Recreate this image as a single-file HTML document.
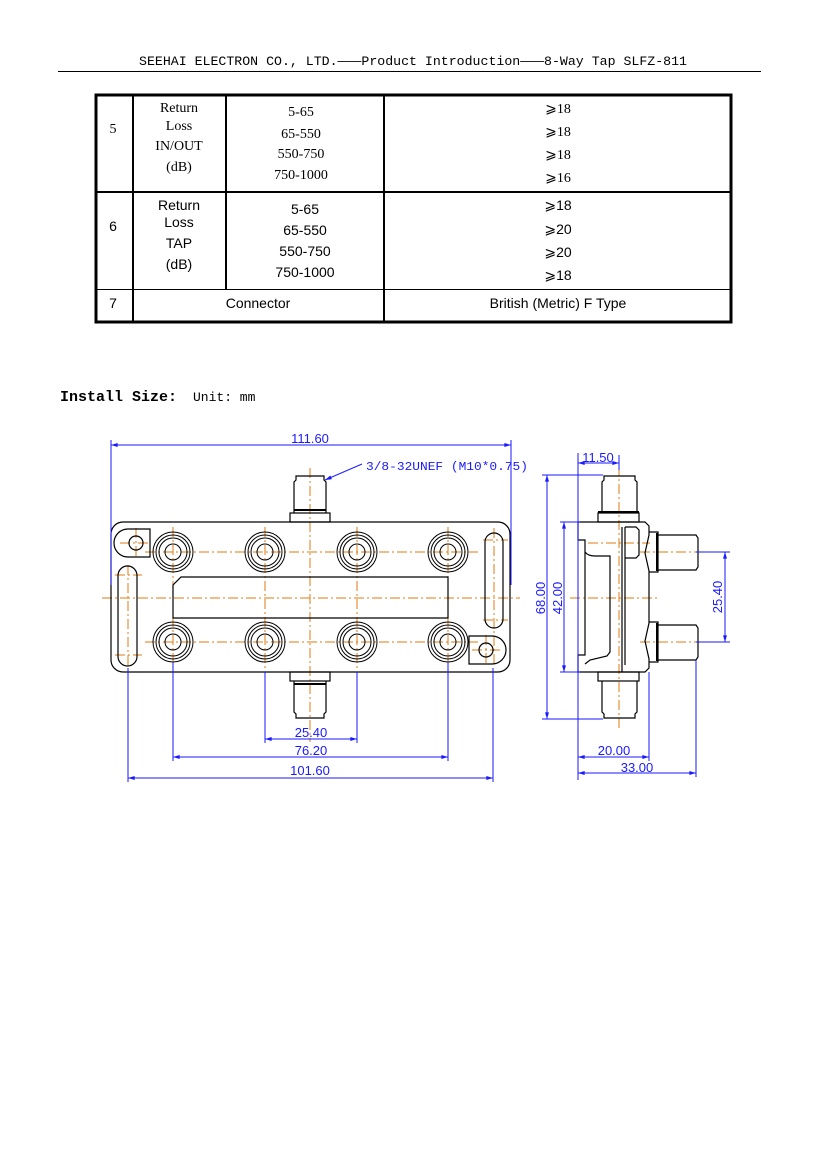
<!DOCTYPE html>
<html><head><meta charset="utf-8"><style>
html,body{margin:0;padding:0;background:#fff;}
body{width:827px;height:1170px;position:relative;overflow:hidden;}
svg{position:absolute;left:0;top:0;}
</style></head><body>
<svg width="827" height="1170" viewBox="0 0 827 1170" xmlns="http://www.w3.org/2000/svg">
<defs>
<marker id="a" viewBox="0 0 10 6" refX="10" refY="3" markerWidth="10" markerHeight="4" orient="auto-start-reverse" markerUnits="userSpaceOnUse"><path d="M0,0 L10,3 L0,6z" fill="#1a1aff"/></marker>
<g id="j" stroke="#000" stroke-width="1" fill="none"><circle r="20"/><circle r="17"/><circle r="14"/><circle r="8"/></g>
</defs>
<!-- header -->
<text x="413" y="65" text-anchor="middle" font-family="Liberation Mono, monospace" font-size="13" fill="#000" textLength="548" lengthAdjust="spacingAndGlyphs">SEEHAI ELECTRON CO., LTD.———Product Introduction———8-Way Tap SLFZ-811</text>
<line x1="58" y1="71.5" x2="761" y2="71.5" stroke="#000" stroke-width="1"/>
<!-- table -->
<g stroke="#000" fill="none">
<rect x="96" y="95" width="635" height="227" stroke-width="3"/>
<line x1="95" y1="192" x2="732" y2="192" stroke-width="2"/>
<line x1="95" y1="289.5" x2="732" y2="289.5" stroke-width="1"/>
<line x1="133" y1="95" x2="133" y2="322" stroke-width="2"/>
<line x1="226" y1="95" x2="226" y2="289" stroke-width="2"/>
<line x1="384" y1="95" x2="384" y2="322" stroke-width="2"/>
</g>
<g font-family="Liberation Serif, serif" font-size="14" fill="#000" text-anchor="middle">
<text x="113" y="133">5</text>
<text x="179" y="112">Return</text><text x="179" y="130">Loss</text>
<text x="179" y="150">IN/OUT</text><text x="179" y="171">(dB)</text>
<text x="301" y="116">5-65</text><text x="301" y="138">65-550</text>
<text x="301" y="158">550-750</text><text x="301" y="179">750-1000</text>
<text x="558" y="113">⩾18</text><text x="558" y="136">⩾18</text>
<text x="558" y="159">⩾18</text><text x="558" y="182">⩾16</text>
</g>
<g font-family="Liberation Sans, sans-serif" font-size="14" fill="#000" text-anchor="middle">
<text x="113" y="231">6</text>
<text x="179" y="210">Return</text><text x="179" y="227">Loss</text>
<text x="179" y="248">TAP</text><text x="179" y="269">(dB)</text>
<text x="305" y="214">5-65</text><text x="305" y="235">65-550</text>
<text x="305" y="256">550-750</text><text x="305" y="277">750-1000</text>
<text x="558" y="210">⩾18</text><text x="558" y="234">⩾20</text>
<text x="558" y="257">⩾20</text><text x="558" y="280">⩾18</text>
<text x="113" y="308">7</text>
<text x="258" y="308">Connector</text>
<text x="558" y="308">British (Metric) F Type</text>
</g>
<!-- install size -->
<text x="60" y="401" font-family="Liberation Mono, monospace" font-weight="bold" font-size="15" fill="#000">Install Size:</text>
<text x="193" y="401" font-family="Liberation Mono, monospace" font-size="13" fill="#000">Unit: mm</text>

<!-- front view -->
<g stroke="#e07a10" stroke-width="1" stroke-dasharray="10,3,2,3" fill="none">
<line x1="102" y1="598" x2="520" y2="598"/>
<line x1="310" y1="468" x2="310" y2="742"/>
<line x1="145" y1="552" x2="478" y2="552"/>
<line x1="145" y1="642" x2="478" y2="642"/>
<line x1="173" y1="527" x2="173" y2="668"/><line x1="265" y1="527" x2="265" y2="668"/>
<line x1="357" y1="527" x2="357" y2="668"/><line x1="448" y1="527" x2="448" y2="668"/>
<line x1="128" y1="565" x2="128" y2="668"/><line x1="115" y1="575" x2="142" y2="575"/><line x1="115" y1="655" x2="142" y2="655"/>
<line x1="494" y1="528" x2="494" y2="665"/><line x1="483" y1="540" x2="508" y2="540"/><line x1="483" y1="620" x2="508" y2="620"/>
<line x1="120" y1="543" x2="150" y2="543"/><line x1="136" y1="528" x2="136" y2="558"/>
<line x1="472" y1="650" x2="502" y2="650"/><line x1="486" y1="635" x2="486" y2="665"/>
</g>
<g stroke="#000" stroke-width="1.2" fill="none">
<rect x="111" y="522" width="399" height="150" rx="12"/>
<rect x="290" y="513" width="40" height="9"/>
<path d="M294 513 V482 l2 -2 V476 h28 v4 l2 2 V513"/><line x1="294" y1="510" x2="326" y2="510" stroke-width="2"/>
<rect x="290" y="672" width="40" height="9"/>
<path d="M294 681 V712 l2 2 V718 h28 v-4 l2 -2 V681"/><line x1="294" y1="684" x2="326" y2="684" stroke-width="2"/>
<path d="M181 577 H448 V618 H173 V585 Z"/>
<rect x="118" y="566" width="19" height="100" rx="9.5"/>
<rect x="485" y="533" width="18" height="95" rx="9"/>
<path d="M150 529 H128 a14 14 0 0 0 0 28 H150 Z"/><circle cx="136" cy="543" r="7"/>
<path d="M469 636 H492 a14 14 0 0 1 0 28 H469 Z"/><circle cx="486" cy="650" r="7"/>
</g>
<use href="#j" x="173" y="552"/><use href="#j" x="265" y="552"/><use href="#j" x="357" y="552"/><use href="#j" x="448" y="552"/>
<use href="#j" x="173" y="642"/><use href="#j" x="265" y="642"/><use href="#j" x="357" y="642"/><use href="#j" x="448" y="642"/>
<!-- front dims -->
<g stroke="#1a1aff" stroke-width="1" fill="none">
<line x1="111" y1="440" x2="111" y2="585"/><line x1="511" y1="440" x2="511" y2="585"/>
<line x1="111" y1="445" x2="511" y2="445" marker-start="url(#a)" marker-end="url(#a)"/>
<line x1="265" y1="672" x2="265" y2="743"/><line x1="357" y1="672" x2="357" y2="743"/>
<line x1="265" y1="739" x2="357" y2="739" marker-start="url(#a)" marker-end="url(#a)"/>
<line x1="173" y1="662" x2="173" y2="761"/><line x1="448" y1="662" x2="448" y2="761"/>
<line x1="173" y1="757" x2="448" y2="757" marker-start="url(#a)" marker-end="url(#a)"/>
<line x1="128" y1="668" x2="128" y2="782"/><line x1="493" y1="668" x2="493" y2="782"/>
<line x1="128" y1="778" x2="493" y2="778" marker-start="url(#a)" marker-end="url(#a)"/>
<polyline points="362,464 325,480" marker-end="url(#a)"/>
</g>
<g font-family="Liberation Sans, sans-serif" font-size="13" fill="#1a1aff" text-anchor="middle">
<text x="310" y="443">111.60</text>
<text x="311" y="737">25.40</text>
<text x="311" y="755">76.20</text>
<text x="310" y="775">101.60</text>
<text x="366" y="470" text-anchor="start" font-family="Liberation Mono, monospace" font-size="12" textLength="162" lengthAdjust="spacingAndGlyphs">3/8-32UNEF (M10*0.75)</text>
</g>

<!-- side view -->
<g stroke="#e07a10" stroke-width="1" stroke-dasharray="10,3,2,3" fill="none">
<line x1="619" y1="466" x2="619" y2="730"/>
<line x1="570" y1="598" x2="660" y2="598"/>
<line x1="588" y1="543" x2="650" y2="543"/>
<line x1="640" y1="552" x2="700" y2="552"/>
<line x1="640" y1="642" x2="700" y2="642"/>
</g>
<g stroke="#000" stroke-width="1.2" fill="none">
<rect x="598" y="513" width="41" height="9"/>
<path d="M602 513 V482 l2 -2 V476 h31 v4 l2 2 V513"/><line x1="598" y1="512" x2="639" y2="512" stroke-width="2"/>
<rect x="598" y="672" width="41" height="9"/>
<path d="M602 681 V712 l2 2 V718 h31 v-4 l2 -2 V681"/>
<path d="M578 522 H645 l4 4 V535 l-4 18 l4 18 V623 l-4 18 l4 18 V668 l-4 4 H578 V655 H585 V540 H578 Z"/>
<path d="M585 552 q3 4 10 4 H610 V652 l-3 4 L590 660 L585 664"/>
<line x1="622" y1="527" x2="622" y2="672"/><line x1="625" y1="527" x2="625" y2="665"/>
<path d="M625 527 H636 l3 3 V555 l-3 3 H625"/>
<path d="M649 532 H658 V572 H649"/><path d="M658 535 H696 l2 3 V567 l-2 3 H658"/>
<path d="M649 622 H658 V662 H649"/><path d="M658 625 H696 l2 3 V657 l-2 3 H658"/>
<line x1="657" y1="533" x2="657" y2="571" stroke-width="2"/><line x1="657" y1="623" x2="657" y2="661" stroke-width="2"/>
</g>
<g stroke="#1a1aff" stroke-width="1" fill="none">
<line x1="578" y1="453" x2="578" y2="780"/><line x1="619" y1="455" x2="619" y2="470"/>
<line x1="578" y1="463" x2="619" y2="463" marker-start="url(#a)" marker-end="url(#a)"/>
<line x1="542" y1="475" x2="603" y2="475"/><line x1="542" y1="719" x2="603" y2="719"/>
<line x1="547" y1="475" x2="547" y2="719" marker-start="url(#a)" marker-end="url(#a)"/>
<line x1="560" y1="522" x2="580" y2="522"/><line x1="560" y1="672" x2="580" y2="672"/>
<line x1="564" y1="522" x2="564" y2="672" marker-start="url(#a)" marker-end="url(#a)"/>
<line x1="696" y1="552" x2="730" y2="552"/><line x1="696" y1="642" x2="730" y2="642"/>
<line x1="725" y1="552" x2="725" y2="642" marker-start="url(#a)" marker-end="url(#a)"/>
<line x1="649" y1="672" x2="649" y2="761"/><line x1="696" y1="660" x2="696" y2="777"/>
<line x1="578" y1="757" x2="649" y2="757" marker-start="url(#a)" marker-end="url(#a)"/>
<line x1="578" y1="773" x2="696" y2="773" marker-start="url(#a)" marker-end="url(#a)"/>
</g>
<g font-family="Liberation Sans, sans-serif" font-size="13" fill="#1a1aff" text-anchor="middle">
<text x="598" y="462">11.50</text>
<text x="614" y="755">20.00</text>
<text x="637" y="772">33.00</text>
<text transform="translate(545,598) rotate(-90)">68.00</text>
<text transform="translate(562,598) rotate(-90)">42.00</text>
<text transform="translate(722,597) rotate(-90)">25.40</text>
</g>
</svg>
</body></html>
